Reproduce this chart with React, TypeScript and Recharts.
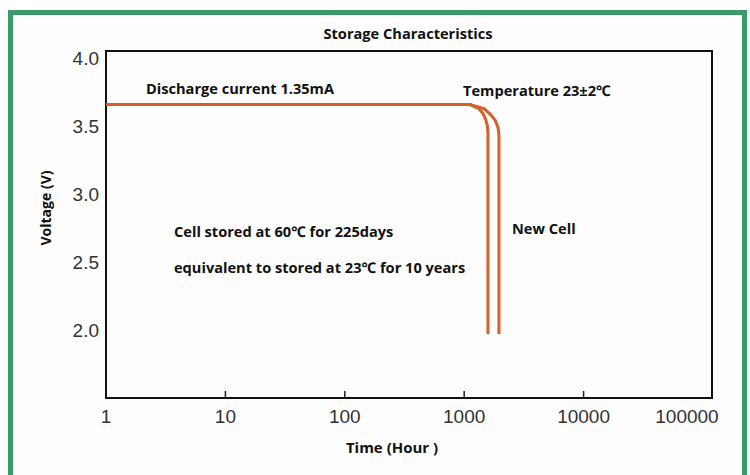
import { LineChart, Line, XAxis, YAxis, ReferenceArea } from "recharts";

// hours (log axis) and volts
const storedHours = [1, 10, 100, 1000, 1118, 1330, 1429, 1511, 1564, 1582, 1582];
const storedVolts = [3.656, 3.656, 3.656, 3.656, 3.656, 3.626, 3.593, 3.55, 3.499, 3.444, 1.97];
const newHours = [1, 10, 100, 1000, 1118, 1479, 1661, 1815, 1920, 1956, 1956];
const newVolts = [3.656, 3.656, 3.656, 3.656, 3.656, 3.625, 3.583, 3.542, 3.488, 3.429, 1.97];

const timeTicks = [1, 10, 100, 1000, 10000, 100000];
const voltTicks = [2.0, 2.5, 3.0, 3.5, 4.0];
const frameEnd = 119000;

const storedData = storedHours.map((h, i) => ({ h, v: storedVolts[i] }));
const newData = newHours.map((h, i) => ({ h, v: newVolts[i] }));

const LINE = "#d4602c";
const BOLD = "'Open Sans', 'Noto Sans', sans-serif";
const PLAIN = "'Liberation Sans', Arial, sans-serif";

function TimeTick(props: any) {
  const { x, y, payload } = props;
  const inner = payload.value > 1 && payload.value < 100000;
  // last label sits pulled in under the corner, like the original
  const tx = payload.value === 100000 ? x - 16 : x;
  return (
    <g>
      {inner && <line x1={x} x2={x} y1={y - 7} y2={y} stroke="#222" strokeWidth={1.5} />}
      <text x={tx} y={y + 25} textAnchor="middle" fill="#333" fontSize={19} fontFamily={PLAIN}>
        {payload.value}
      </text>
    </g>
  );
}

function Note({
  left,
  top,
  size = 14.6,
  children,
}: {
  left: number;
  top: number;
  size?: number;
  children: React.ReactNode;
}) {
  return (
    <div
      style={{
        position: "absolute",
        left,
        top,
        fontFamily: BOLD,
        fontWeight: 700,
        fontSize: size,
        lineHeight: "18px",
        color: "#111",
        whiteSpace: "nowrap",
      }}
    >
      {children}
    </div>
  );
}

export default function App() {
  return (
    <div style={{ position: "absolute", left: 0, top: 0, width: 750, height: 475, background: "#fff", overflow: "hidden" }}>
      <div
        style={{
          position: "absolute",
          left: 8,
          top: 10,
          width: 739,
          height: 500,
          border: "5px solid #3b9a6b",
          boxSizing: "border-box",
          background: "#fcfdfc",
        }}
      />
      <div style={{ position: "absolute", left: 0, top: 0 }}>
        <LineChart width={750} height={475} margin={{ top: 51, right: 38, bottom: 47, left: 46 }}>
          <XAxis
            dataKey="h"
            type="number"
            scale="log"
            domain={[1, frameEnd]}
            ticks={timeTicks}
            allowDataOverflow
            axisLine={false}
            tickLine={false}
            tickSize={0}
            tickMargin={0}
            height={30}
            tick={<TimeTick />}
          />
          <YAxis
            type="number"
            domain={[1.5, 4.05]}
            ticks={voltTicks}
            allowDataOverflow
            axisLine={false}
            tickLine={false}
            tickSize={0}
            tickMargin={7}
            width={60}
            tickFormatter={(v: number) => v.toFixed(1)}
            tick={{ fill: "#333", fontSize: 19, fontFamily: PLAIN }}
          />
          <ReferenceArea
            x1={1}
            x2={frameEnd}
            y1={1.5}
            y2={4.05}
            stroke="#111"
            strokeWidth={2}
            fill="#fff"
            fillOpacity={0}
          />
          <Line data={storedData} dataKey="v" type="linear" stroke={LINE} strokeWidth={3} dot={false} isAnimationActive={false} />
          <Line data={newData} dataKey="v" type="linear" stroke={LINE} strokeWidth={3} dot={false} isAnimationActive={false} />
        </LineChart>
      </div>
      <div
        style={{
          position: "absolute",
          left: 308,
          top: 24,
          width: 200,
          textAlign: "center",
          fontFamily: BOLD,
          fontWeight: 700,
          fontSize: 14.6,
          lineHeight: "18px",
          color: "#111",
        }}
      >
        Storage Characteristics
      </div>
      <Note left={146} top={79}>Discharge current 1.35mA</Note>
      <Note left={463} top={81}>Temperature 23±2℃</Note>
      <Note left={174} top={222}>Cell stored at 60℃ for 225days</Note>
      <Note left={174} top={258}>equivalent to stored at 23℃ for 10 years</Note>
      <Note left={512} top={219}>New Cell</Note>
      <div
        style={{
          position: "absolute",
          left: 292,
          top: 438,
          width: 200,
          textAlign: "center",
          fontFamily: BOLD,
          fontWeight: 700,
          fontSize: 15,
          lineHeight: "18px",
          color: "#111",
        }}
      >
        Time (Hour )
      </div>
      <div
        style={{
          position: "absolute",
          left: 46 - 60,
          top: 208 - 9,
          width: 120,
          textAlign: "center",
          transform: "rotate(-90deg)",
          fontFamily: BOLD,
          fontWeight: 700,
          fontSize: 14,
          lineHeight: "18px",
          color: "#111",
        }}
      >
        Voltage (V)
      </div>
    </div>
  );
}
